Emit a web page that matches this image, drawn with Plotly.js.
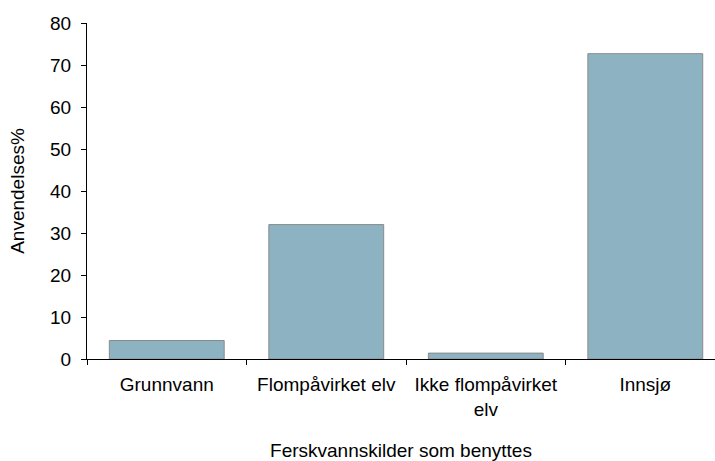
<!DOCTYPE html>
<html>
<head>
<meta charset="utf-8">
<script src="https://cdn.plot.ly/plotly-3.0.1.min.js"></script>
<style>html,body{margin:0;padding:0;background:#fff;}#chart{width:715px;height:461px;}</style>
</head>
<body>
<div id="chart"></div>
<script>
const categories = ["Grunnvann", "Flompåvirket elv", "Ikke flompåvirket<br>elv", "Innsjø"];
const values = [4.4, 32.0, 1.4, 72.7];
const yTickValues = [0, 10, 20, 30, 40, 50, 60, 70, 80];
const yTitle = "Anvendelses%";
const xTitle = "Ferskvannskilder som benyttes";

const font = {family: "Liberation Sans, Arial, sans-serif", size: 19, color: "#000"};

Plotly.newPlot("chart", [{
  type: "bar",
  x: categories,
  y: values,
  marker: {color: "rgb(141,179,194)", line: {color: "#8a8a8a", width: 1}},
  hoverinfo: "none"
}], {
  width: 715, height: 461,
  margin: {l: 87, r: 0, t: 23, b: 102},
  paper_bgcolor: "#fff", plot_bgcolor: "#fff",
  font: font,
  bargap: 0.28,
  showlegend: false,
  xaxis: {
    type: "category",
    range: [-0.5, 3.437],
    showline: true, linecolor: "#000", linewidth: 1,
    ticks: "outside", ticklen: 5, tickcolor: "#000", tickson: "boundaries",
    showgrid: false, zeroline: false,
    tickfont: font,
    ticklabelstandoff: 8,
    title: {text: xTitle, font: font, standoff: 26}
  },
  yaxis: {
    range: [0, 80],
    tickvals: yTickValues,
    showline: true, linecolor: "#000", linewidth: 1,
    ticks: "outside", ticklen: 5, tickcolor: "#000",
    showgrid: false, zeroline: false,
    tickfont: font,
    ticklabelstandoff: 6,
    title: {text: yTitle, font: font, standoff: 20}
  }
}, {staticPlot: true});
</script>
</body>
</html>
